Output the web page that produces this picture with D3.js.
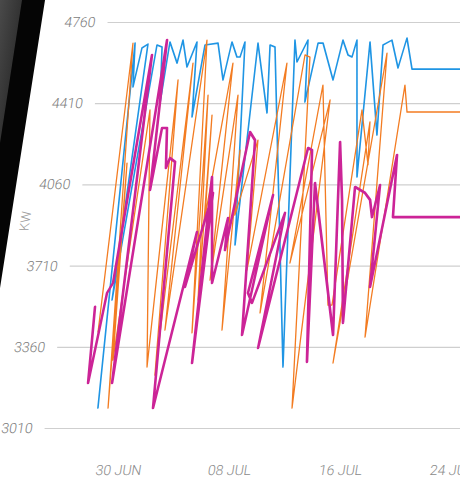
<!DOCTYPE html>
<html>
<head>
<meta charset="utf-8">
<script src="https://cdn.jsdelivr.net/npm/d3@7"></script>
<style>
  html, body { margin: 0; padding: 0; background: #fff; overflow: hidden; }
</style>
</head>
<body>
<svg id="chart" width="460" height="483"></svg>
<script>
// tick labels
const tickDates = ['2019-06-30', '2019-07-08', '2019-07-16', '2019-07-24'];
const tickLabels = ['30 JUN', '08 JUL', '16 JUL', '24 JUL'];
const kwTicks = [3010, 3360, 3710, 4060, 4410, 4760];

// series: days after 30 Jun, and KW (in the order the points were logged)
const blueDays = [-2.15, -3.55, -3.21, -3.00, -2.61, -2.34, -1.95, -1.56, -1.08, -1.05, -0.30, -0.13, 0.46, 0.90, 1.38, 1.51, 2.43, 3.20, 3.42, 3.95, 4.17, 4.36, 5.91, 5.31, 6.74, 6.20, 6.58, 10.73, 7.94, 8.33, 8.88, 9.35, 9.64, 10.00, 11.13, 11.40, 11.93, 12.24, 12.41, 13.94, 13.37, 14.91, 14.34, 14.93, 15.68, 15.99, 16.70, 26];
const blueKw = [3096, 4669, 4480, 4648, 4665, 3562, 4661, 4652, 4411, 4674, 4583, 4682, 4566, 4674, 4351, 4661, 4669, 4510, 4674, 4609, 4609, 4674, 3799, 4669, 4368, 4661, 4652, 3273, 4682, 4588, 4682, 4415, 4669, 4669, 4510, 4682, 4618, 4609, 4682, 4092, 4674, 4273, 4661, 4682, 4562, 4691, 4557, 4557];

const orangeDays = [-2.99, -3.70, -1.42, -2.79, -1.60, -1.73, 0.93, -0.04, 1.59, 0.85, 1.81, 1.60, 3.79, 2.29, 3.86, 2.80, 3.43, 3.73, 4.50, 4.45, 5.92, 5.21, 5.57, 6.39, 7.05, 7.62, 8.47, 8.83, 9.21, 11.84, 11.14, 10.07, 10.46, 13.28, 13.57, 13.55, 14.60, 14.26, 14.29, 14.72, 16.31, 16.37, 16.82, 26];
const orangeKw = [3424, 4669, 3096, 4152, 3303, 4381, 3273, 4510, 3238, 4583, 3432, 4682, 3420, 4445, 3562, 4359, 3920, 4583, 3648, 4445, 3432, 4208, 3928, 4251, 3691, 4583, 3506, 4618, 4609, 3096, 4424, 3721, 4488, 3540, 3540, 4381, 4144, 4329, 3290, 4626, 3402, 4488, 4372, 4372];

const magentaDays = [-3.49, -3.14, -2.78, -2.46, -2.20, -1.41, -1.28, -0.83, -0.66, -0.30, 0.07, 0.25, 0.66, 1.82, 3.02, 2.77, 3.74, 4.13, 3.49, 4.68, 5.10, 5.24, 5.73, 6.18, 7.42, 8.09, 7.38, 7.78, 9.15, 8.72, 10.09, 10.40, 12.40, 10.98, 13.98, 12.33, 13.12, 14.56, 13.91, 14.70, 15.14, 15.47, 15.69, 16.11, 16.58, 16.98, 26];
const magentaKw = [3532, 3204, 3592, 3635, 4618, 3204, 4682, 4036, 4303, 4303, 4131, 4174, 4157, 3096, 3855, 3618, 4023, 3290, 4092, 3635, 3915, 3777, 4286, 4251, 3411, 4014, 3592, 3549, 3937, 3355, 4217, 4208, 3295, 4066, 3411, 4243, 3993, 3463, 4049, 4023, 3993, 3919, 4057, 3618, 4187, 3919, 3919];

const parse = d3.timeParse('%Y-%m-%d');
const base = parse(tickDates[0]);
const toDate = d => d3.timeMinute.offset(base, Math.round(d * 1440));

const series = [
  { days: blueDays, kw: blueKw, color: '#1f95e4', width: 1.6 },
  { days: orangeDays, kw: orangeKw, color: '#f37c22', width: 1.3 },
  { days: magentaDays, kw: magentaKw, color: '#cc2497', width: 2.6 }
];

const svg = d3.select('#chart');

// the screen is photographed at an angle, so the whole chart is sheared
const chart = svg.append('g').attr('transform', 'skewX(-8.81)');

const x = d3.scaleTime()
  .domain([base, parse(tickDates[3])])
  .range([191, 524]);

const y = d3.scaleLinear()
  .domain([3010, 4760])
  .range([428, 22]);

// y axis + grid
const yAxis = chart.append('g')
  .attr('transform', 'translate(111,0)')
  .call(d3.axisLeft(y).tickValues(kwTicks).tickSize(-560).tickPadding(12).tickFormat(d3.format('d')));
yAxis.select('.domain').remove();
yAxis.selectAll('line').attr('stroke', '#cfcfcf').attr('stroke-width', 1.2);
yAxis.selectAll('text')
  .attr('font-family', 'Roboto, Lato, sans-serif')
  .attr('font-weight', 300)
  .attr('font-size', 14)
  .attr('fill', '#7c7c7c');

// x axis labels
const xAxis = chart.append('g')
  .attr('transform', 'translate(0,428)')
  .call(d3.axisBottom(x).tickValues(tickDates.map(parse)).tickSize(0).tickPadding(37)
    .tickFormat((d, i) => tickLabels[i]));
xAxis.select('.domain').remove();
xAxis.selectAll('text')
  .attr('font-family', 'Roboto, Lato, sans-serif')
  .attr('font-weight', 300)
  .attr('font-size', 14)
  .attr('fill', '#8a8a8a');

// y title
chart.append('text')
  .attr('transform', 'translate(64,221) rotate(-90)')
  .attr('text-anchor', 'middle')
  .attr('font-family', 'Roboto, Lato, sans-serif')
  .attr('font-weight', 300)
  .attr('font-size', 13)
  .attr('fill', '#9a9a9a')
  .text('KW');

const line = d3.line()
  .x(d => x(d[0]))
  .y(d => y(d[1]));

series.forEach(s => {
  const pts = s.days.map((d, i) => [toDate(d), s.kw[i]]);
  chart.append('path')
    .datum(pts)
    .attr('d', line)
    .attr('fill', 'none')
    .attr('stroke', s.color)
    .attr('stroke-width', s.width)
    .attr('stroke-linejoin', 'round')
    .attr('stroke-linecap', 'round');
});

// dark bezel on the left of the photo
const grad = svg.append('defs').append('linearGradient')
  .attr('id', 'bezel').attr('x1', 0).attr('y1', 0).attr('x2', 1).attr('y2', 1);
grad.append('stop').attr('offset', 0).attr('stop-color', '#4a4a4a');
grad.append('stop').attr('offset', 1).attr('stop-color', '#1c1c1c');

svg.append('path')
  .attr('d', 'M0,0 L45,0 L0,288 Z')
  .attr('fill', '#050505');
svg.append('path')
  .attr('d', 'M0,0 L22,0 L0,143 Z')
  .attr('fill', 'url(#bezel)');
</script>
</body>
</html>
